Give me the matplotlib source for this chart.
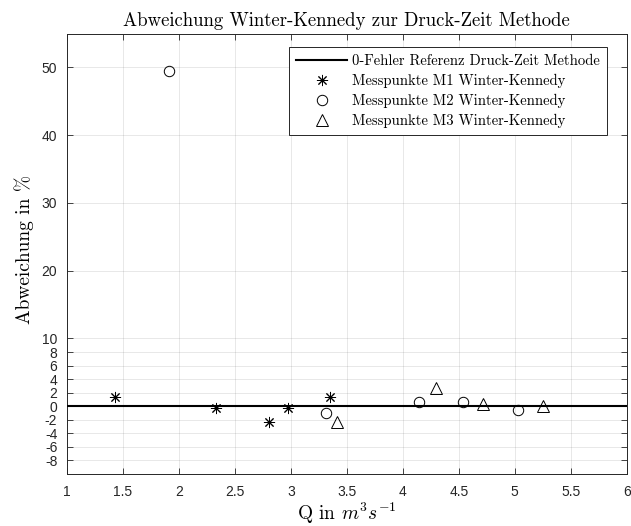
import numpy as np
import matplotlib
matplotlib.use('Agg')
import matplotlib.pyplot as plt

m1_q = [1.43, 2.33, 2.80, 2.97, 3.35]
m1_err = [1.3, -0.2, -2.4, -0.3, 1.3]

m2_q = [1.91, 3.31, 4.14, 4.54, 5.03]
m2_err = [49.4, -1.0, 0.6, 0.6, -0.5]

m3_q = [3.415, 4.295, 4.715, 5.25]
m3_err = [-2.3, 2.7, 0.3, 0.05]

ref_q = [1, 6]
ref_err = [0, 0]

yticks = [-8, -6, -4, -2, 0, 2, 4, 6, 8, 10, 20, 30, 40, 50]
xticks = [1, 1.5, 2, 2.5, 3, 3.5, 4, 4.5, 5, 5.5, 6]
xticklabels = ['1', '1.5', '2', '2.5', '3', '3.5', '4', '4.5', '5', '5.5', '6']

plt.rcParams['mathtext.fontset'] = 'cm'
plt.rcParams['axes.unicode_minus'] = False
plt.rcParams['font.family'] = ['Liberation Sans', 'DejaVu Sans']

axcol = (0.15, 0.15, 0.15)

fig = plt.figure(figsize=(6.31, 5.26), dpi=100)
ax = fig.add_axes([0.1062, 0.0989, 0.8870, 0.8374])

ax.plot(ref_q, ref_err, color='k', lw=1.5, label='0-Fehler Referenz Druck-Zeit Methode', zorder=3)
ax.plot(m1_q, m1_err, ls='none', marker=(8, 2, 0), ms=8, mec='k', mew=0.7,
        label='Messpunkte M1 Winter-Kennedy', zorder=4)
ax.plot(m2_q, m2_err, ls='none', marker='o', ms=7.5, mfc='none', mec='k', mew=0.7,
        label='Messpunkte M2 Winter-Kennedy', zorder=4)
ax.plot(m3_q, m3_err, ls='none', marker='^', ms=8.5, mfc='none', mec='k', mew=0.7,
        label='Messpunkte M3 Winter-Kennedy', zorder=4)

ax.set_xlim(1, 6)
ax.set_ylim(-10, 55)
ax.set_xticks(xticks)
ax.set_xticklabels(xticklabels)
ax.set_yticks(yticks)

ax.grid(True, color=(0.15, 0.15, 0.15), alpha=0.12, lw=0.6)
ax.set_axisbelow(True)
ax.tick_params(direction='in', length=4, width=0.6, colors=axcol, labelsize=10,
               top=True, right=True)
ax.tick_params(axis='x', pad=8)
ax.tick_params(axis='y', pad=7)
for s in ax.spines.values():
    s.set_color(axcol)
    s.set_linewidth(0.7)

serif = 'cmr10'
ax.set_title('Abweichung Winter-Kennedy zur Druck-Zeit Methode', family=serif,
             fontsize=13.5, pad=5.5)
ax.set_xlabel('Q in $m^3s^{-1}$', family=serif, fontsize=14, va='top')
ax.xaxis.set_label_coords(0.5, -0.06)
ax.set_ylabel('Abweichung in %', family=serif, fontsize=14, va='center')
ax.yaxis.set_label_coords(-0.077, 0.51)

leg = ax.legend(loc='upper right', bbox_to_anchor=(0.9648, 0.970),
                prop={'family': serif, 'size': 10.6},
                fancybox=False, framealpha=1, edgecolor=axcol, handlelength=3.5,
                handletextpad=0.3, borderaxespad=0, labelspacing=0.4,
                borderpad=0.5)
leg.get_frame().set_linewidth(0.7)

fig.savefig('out.png', dpi=100)
